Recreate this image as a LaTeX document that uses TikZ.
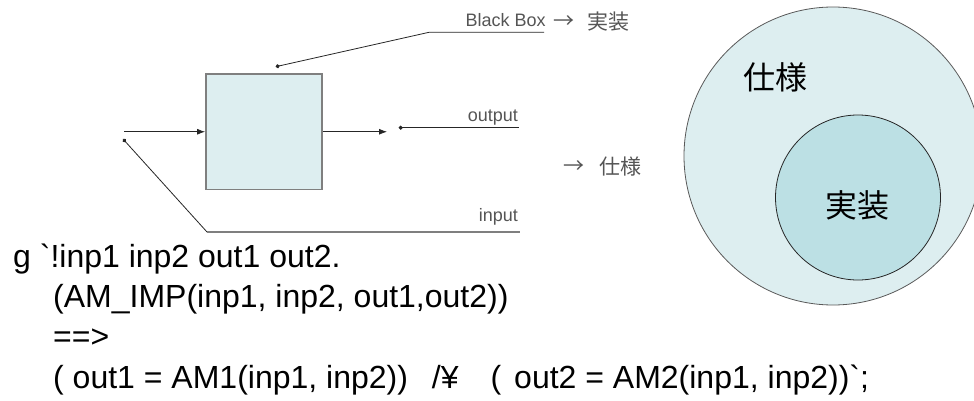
\documentclass[tikz,border=0pt]{standalone}
\usepackage{fontspec}
\setmainfont{Liberation Sans}
\newfontfamily\jfont{Noto Sans CJK JP}
\newfontfamily\codefont{Liberation Sans}
\usetikzlibrary{arrows.meta}
\definecolor{paleblue}{HTML}{DDEEF0}
\definecolor{innerblue}{HTML}{BCE0E4}
\definecolor{edgegray}{HTML}{7F7F7F}
\definecolor{labelgray}{HTML}{555555}
\begin{document}
\begin{tikzpicture}[x=1pt,y=-1pt,
  wire/.style={draw=black!85, line width=0.8pt},
  feed/.style={wire, -{Latex[length=8pt,width=6pt]}},
  pin/.style={wire, {Circle[length=4pt]}-},
  tag/.style={font=\fontsize{18}{18}\selectfont, text=labelgray, inner sep=0pt},
  jtag/.style={font=\jfont\fontsize{21}{21}\selectfont, text=labelgray, inner sep=0pt},
  big/.style={font=\jfont\fontsize{32}{32}\selectfont, inner sep=0pt},
  code/.style={font=\codefont\fontsize{32}{32}\selectfont, anchor=base west, inner sep=0pt},
]
\useasboundingbox (0,0) rectangle (974,401);
\clip (0,0) rectangle (974,401);

% specification / implementation circles
\node[circle, draw=black!65, line width=0.8pt, fill=paleblue, minimum size=298pt, inner sep=0pt] (spec) at (833,156) {};
\node[circle, draw=black!85, line width=0.8pt, fill=innerblue, minimum size=165pt, inner sep=0pt] (impl) at (858,197.5) {};
\node[big] (specL) at (775,77) {仕様};
\node[big] (implL) at (857,205) {実装};

% the black box
\node[draw=edgegray, line width=1.8pt, fill=paleblue, minimum width=116pt, minimum height=115.5pt, inner sep=0pt] (bb) at (264,131.75) {};

\coordinate (inS) at (124,131.75);
\coordinate (outT) at (387,131.75);
\draw[feed] (inS) -- (bb.west);
\draw[feed] (bb.east) -- (outT);

% callout lines
\coordinate (inDot) at (123,139);
\coordinate (inKnee) at (207,232);
\coordinate (inEnd) at (520,232);
\draw[pin] (inDot) -- (inKnee);
\draw[draw=edgegray, line width=1.4pt] (inKnee) -- (inEnd);

\coordinate (outDot) at (398.7,127.7);
\coordinate (outEnd) at (519,127.7);
\draw[pin] (outDot) -- (outEnd);

\coordinate (bbDot) at (275.7,66.7);
\coordinate (bbKnee) at (429,32.3);
\coordinate (bbEnd) at (544,32.3);
\draw[pin] (bbDot) -- (bbKnee) -- (bbEnd);

% callout texts
\node[tag, anchor=base east] (outL) at (518,122) {output};
\node[tag, anchor=base east] (inL) at (518,221) {input};
\node[tag, anchor=base west] (bbL) at (465.5,27) {Black Box};
\node[jtag] (arrA) at (564,22) {→};
\node[jtag, anchor=west] (implT) at (587,22) {実装};
\node[jtag] (arrB) at (574,167) {→};
\node[jtag, anchor=west] (specT) at (599,167) {仕様};

% formula
\node[code] (c1) at (13,267) {g \char"60!inp1 inp2 out1 out2.};
\node[code] (c2) at (53,307) {(AM\_IMP(inp1, inp2, out1,out2))};
\node[code] (c3) at (53,347) {==>};
\node[code] (c4) at (53,388) {( out1 = AM1(inp1, inp2))\hspace{24pt}/¥\hspace{32pt}(\hspace{4pt} out2 = AM2(inp1, inp2))\char"60;};
\end{tikzpicture}
\end{document}
